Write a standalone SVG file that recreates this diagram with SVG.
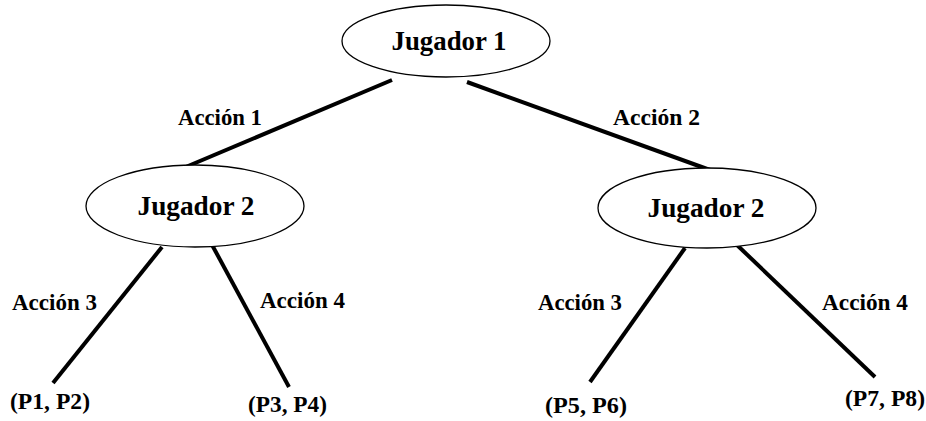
<svg xmlns="http://www.w3.org/2000/svg" width="926" height="421" viewBox="0 0 926 421">
<style>
.node ellipse{fill:#fff;stroke:#000;stroke-width:1.3}
.nt{font-family:"Liberation Serif","Times New Roman",serif;font-weight:bold;font-size:28px;fill:#000;text-anchor:middle}
.lbl{font-family:"Liberation Serif","Times New Roman",serif;font-weight:bold;font-size:22.5px;fill:#000}
.edge{stroke:#000;stroke-width:4;stroke-linecap:butt}
</style>
<rect width="926" height="421" fill="#fff"/>
<g id="connectors">
<line class="edge" x1="392" y1="80" x2="181" y2="169"/>
<line class="edge" x1="467" y1="82" x2="710" y2="170"/>
<line class="edge" x1="162" y1="247" x2="53" y2="383" stroke-width="3.5"/>
<line class="edge" x1="211" y1="243" x2="289" y2="387" stroke-width="3.5"/>
<line class="edge" x1="685" y1="248" x2="590" y2="382" stroke-width="3.5"/>
<line class="edge" x1="737" y1="245" x2="875" y2="377" stroke-width="5"/>
</g>
<g id="labels">
<text class="lbl" x="178" y="125" textLength="84" lengthAdjust="spacingAndGlyphs">Acción 1</text>
<text class="lbl" x="613" y="125" textLength="87" lengthAdjust="spacingAndGlyphs">Acción 2</text>
<text class="lbl" x="12" y="310" textLength="85" lengthAdjust="spacingAndGlyphs">Acción 3</text>
<text class="lbl" x="260" y="308" textLength="85" lengthAdjust="spacingAndGlyphs">Acción 4</text>
<text class="lbl" x="538" y="310" textLength="84" lengthAdjust="spacingAndGlyphs">Acción 3</text>
<text class="lbl" x="822" y="310" textLength="86" lengthAdjust="spacingAndGlyphs">Acción 4</text>
</g>
<g id="j1" class="node">
<ellipse cx="446" cy="41" rx="104" ry="36"/>
<text class="nt" x="449" y="50" textLength="115" lengthAdjust="spacingAndGlyphs">Jugador 1</text>
</g>
<g id="j2a" class="node">
<ellipse cx="195" cy="206" rx="109" ry="41"/>
<text class="nt" x="196" y="215" textLength="117" lengthAdjust="spacingAndGlyphs">Jugador 2</text>
</g>
<g id="j2b" class="node">
<ellipse cx="707" cy="208" rx="109" ry="40"/>
<text class="nt" x="706" y="217" textLength="117" lengthAdjust="spacingAndGlyphs">Jugador 2</text>
</g>
<g id="p12" class="node"><text class="lbl" x="10" y="409" textLength="80" lengthAdjust="spacingAndGlyphs">(P1, P2)</text></g>
<g id="p34" class="node"><text class="lbl" x="248" y="412" textLength="79" lengthAdjust="spacingAndGlyphs">(P3, P4)</text></g>
<g id="p56" class="node"><text class="lbl" x="545" y="413" textLength="82" lengthAdjust="spacingAndGlyphs">(P5, P6)</text></g>
<g id="p78" class="node"><text class="lbl" x="845" y="406" textLength="80" lengthAdjust="spacingAndGlyphs">(P7, P8)</text></g>
</svg>
